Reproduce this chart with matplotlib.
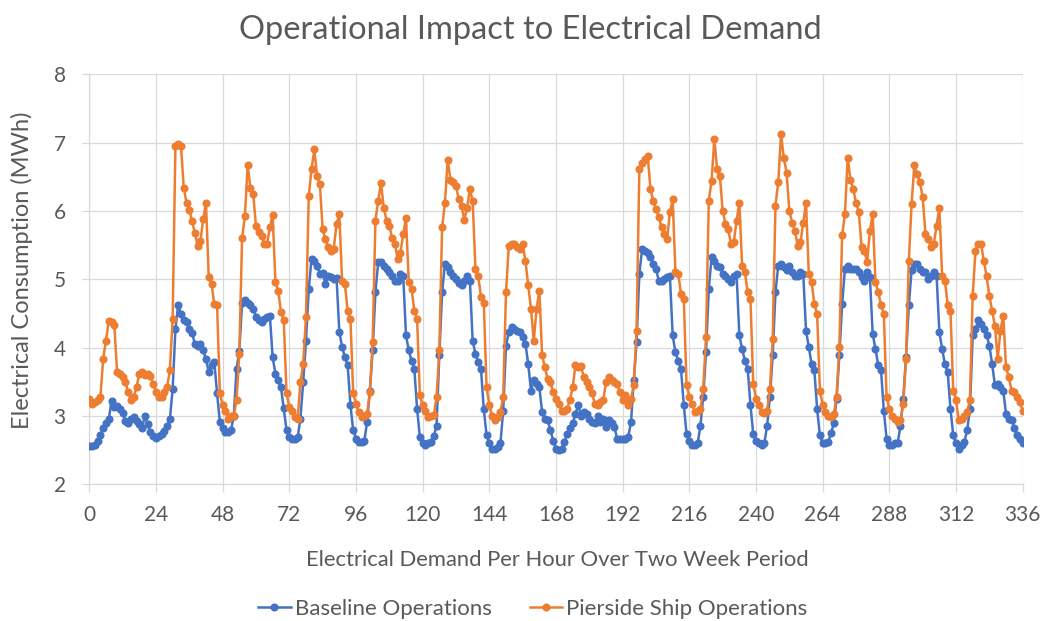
import matplotlib
matplotlib.use("Agg")
import matplotlib.pyplot as plt


# Hourly electrical demand (MWh), one row per day
hours = list(range(0, 337))

baseline = [
    2.56, 2.56, 2.58, 2.63, 2.72, 2.82, 2.90, 2.95, 3.22, 3.13, 3.15, 3.10, 3.05, 2.92, 2.90, 2.95, 2.99, 2.93, 2.88, 2.83, 3.00, 2.88, 2.76, 2.70,
    2.68, 2.70, 2.73, 2.78, 2.85, 2.95, 3.39, 4.27, 4.63, 4.49, 4.40, 4.37, 4.27, 4.22, 4.05, 4.02, 4.05, 3.96, 3.83, 3.64, 3.74, 3.79, 3.33, 2.91,
    2.82, 2.77, 2.77, 2.79, 3.00, 3.69, 3.95, 4.66, 4.69, 4.66, 4.62, 4.57, 4.45, 4.40, 4.37, 4.42, 4.45, 4.47, 3.86, 3.62, 3.52, 3.42, 3.11, 2.79,
    2.69, 2.67, 2.66, 2.69, 2.96, 3.50, 4.10, 4.86, 5.30, 5.27, 5.20, 5.08, 5.09, 4.93, 5.05, 5.03, 5.00, 5.02, 4.23, 4.01, 3.86, 3.74, 3.16, 2.79,
    2.67, 2.62, 2.62, 2.64, 2.91, 3.37, 3.96, 4.81, 5.25, 5.25, 5.20, 5.15, 5.10, 5.05, 4.98, 4.98, 5.08, 5.05, 4.18, 3.96, 3.81, 3.69, 3.10, 2.69,
    2.60, 2.57, 2.60, 2.62, 2.70, 2.86, 3.89, 4.81, 5.22, 5.18, 5.10, 5.05, 5.00, 4.95, 4.91, 4.98, 5.05, 4.98, 4.10, 3.91, 3.79, 3.69, 3.10, 2.72,
    2.60, 2.52, 2.52, 2.55, 2.60, 3.08, 4.03, 4.23, 4.30, 4.27, 4.25, 4.23, 4.15, 4.06, 3.76, 3.37, 3.52, 3.47, 3.42, 3.06, 2.96, 2.94, 2.79, 2.64,
    2.52, 2.50, 2.52, 2.62, 2.74, 2.82, 2.89, 3.03, 3.16, 3.00, 3.06, 3.03, 2.96, 2.91, 2.89, 3.00, 2.91, 2.96, 2.84, 2.94, 2.90, 2.84, 2.67, 2.67,
    2.67, 2.67, 2.69, 2.91, 3.52, 4.08, 5.08, 5.44, 5.42, 5.39, 5.32, 5.22, 5.15, 4.98, 4.98, 5.00, 5.03, 5.05, 4.18, 3.93, 3.81, 3.69, 3.16, 2.74,
    2.64, 2.57, 2.58, 2.60, 2.86, 3.28, 3.93, 4.86, 5.32, 5.27, 5.20, 5.18, 5.08, 5.05, 5.00, 4.96, 5.05, 5.08, 4.18, 3.98, 3.81, 3.69, 3.16, 2.74,
    2.64, 2.60, 2.57, 2.60, 2.86, 3.28, 3.89, 4.81, 5.20, 5.22, 5.18, 5.13, 5.20, 5.10, 5.05, 5.05, 5.10, 5.08, 4.25, 4.01, 3.76, 3.67, 3.10, 2.72,
    2.60, 2.60, 2.62, 2.75, 2.89, 3.25, 3.89, 4.64, 5.15, 5.20, 5.15, 5.15, 5.15, 5.10, 5.03, 4.98, 5.10, 5.03, 4.20, 3.98, 3.74, 3.67, 3.08, 2.67,
    2.57, 2.57, 2.60, 2.60, 2.86, 3.25, 3.86, 4.62, 5.13, 5.22, 5.22, 5.15, 5.10, 5.10, 5.00, 5.05, 5.10, 5.05, 4.23, 3.98, 3.76, 3.64, 3.10, 2.72,
    2.60, 2.52, 2.57, 2.62, 2.79, 3.10, 4.18, 4.27, 4.40, 4.35, 4.27, 4.18, 4.03, 3.76, 3.45, 3.47, 3.42, 3.37, 3.03, 2.96, 2.94, 2.82, 2.72, 2.66,
    2.60,
]

pierside = [
    3.25, 3.18, 3.20, 3.24, 3.28, 3.84, 4.10, 4.39, 4.37, 4.33, 3.64, 3.62, 3.57, 3.49, 3.35, 3.23, 3.28, 3.42, 3.62, 3.64, 3.60, 3.62, 3.59, 3.47,
    3.35, 3.28, 3.28, 3.35, 3.42, 3.67, 4.42, 6.95, 6.98, 6.95, 6.34, 6.12, 6.02, 5.85, 5.68, 5.49, 5.56, 5.88, 6.12, 5.03, 4.93, 4.64, 4.62, 3.33,
    3.16, 3.08, 2.96, 3.00, 3.00, 3.23, 3.91, 5.61, 5.92, 6.67, 6.34, 6.25, 5.78, 5.69, 5.64, 5.52, 5.52, 5.76, 5.94, 4.96, 4.83, 4.52, 4.40, 3.33,
    3.13, 3.08, 2.99, 2.96, 3.50, 3.76, 4.45, 6.22, 6.61, 6.90, 6.51, 6.39, 5.73, 5.59, 5.47, 5.42, 5.45, 5.81, 5.95, 4.98, 4.93, 4.54, 4.42, 3.33,
    3.18, 3.06, 2.99, 3.00, 3.03, 3.35, 4.08, 5.86, 6.15, 6.41, 6.05, 5.86, 5.78, 5.61, 5.52, 5.30, 5.39, 5.66, 5.89, 4.96, 4.86, 4.54, 4.42, 3.30,
    3.16, 3.08, 2.99, 3.00, 3.01, 3.28, 3.96, 5.76, 6.11, 6.75, 6.46, 6.42, 6.37, 6.17, 6.07, 5.87, 6.05, 6.32, 6.15, 5.15, 5.05, 4.74, 4.66, 3.42,
    3.16, 3.00, 2.94, 2.99, 3.06, 3.28, 4.81, 5.49, 5.52, 5.52, 5.47, 5.44, 5.52, 5.27, 4.91, 4.57, 4.10, 4.57, 4.83, 3.89, 3.71, 3.54, 3.49, 3.35,
    3.25, 3.18, 3.08, 3.08, 3.10, 3.23, 3.42, 3.74, 3.72, 3.73, 3.57, 3.49, 3.42, 3.33, 3.18, 3.16, 3.20, 3.23, 3.49, 3.57, 3.52, 3.50, 3.47, 3.35,
    3.23, 3.30, 3.16, 3.25, 3.45, 4.25, 6.61, 6.70, 6.76, 6.81, 6.32, 6.15, 6.03, 5.91, 5.76, 5.66, 5.59, 5.98, 6.17, 5.10, 5.08, 4.79, 4.71, 3.45,
    3.28, 3.18, 3.06, 3.08, 3.10, 3.40, 4.15, 6.15, 6.44, 7.05, 6.61, 6.51, 6.00, 5.81, 5.73, 5.52, 5.54, 5.86, 6.12, 5.20, 5.10, 4.81, 4.71, 3.47,
    3.25, 3.16, 3.06, 3.05, 3.08, 3.40, 4.13, 6.08, 6.42, 7.12, 6.78, 6.56, 6.00, 5.83, 5.71, 5.49, 5.54, 5.83, 6.12, 5.08, 4.96, 4.64, 4.49, 3.37,
    3.16, 3.06, 3.00, 2.99, 3.03, 3.28, 4.01, 5.65, 5.95, 6.78, 6.46, 6.32, 6.12, 5.98, 5.47, 5.42, 5.25, 5.71, 5.95, 4.96, 4.81, 4.62, 4.49, 3.28,
    3.10, 3.00, 2.96, 2.91, 2.94, 3.18, 3.84, 5.27, 6.10, 6.68, 6.54, 6.42, 6.20, 5.66, 5.59, 5.47, 5.52, 5.78, 6.05, 5.05, 4.98, 4.62, 4.54, 3.37,
    3.23, 2.94, 2.96, 3.00, 3.06, 3.23, 4.76, 5.42, 5.52, 5.52, 5.27, 5.05, 4.76, 4.54, 4.32, 3.84, 4.25, 4.47, 3.71, 3.57, 3.37, 3.35, 3.28, 3.20,
    3.08,
]

x_ticks = list(range(0, 337, 24))
y_ticks = [2, 3, 4, 5, 6, 7, 8]
series_names = ["Baseline Operations", "Pierside Ship Operations"]

plt.rcParams['font.family'] = ['Lato', 'DejaVu Sans']
text_gray = '#595959'
grid_gray = '#D9D9D9'

W, H = 1043, 621
fig = plt.figure(figsize=(W / 100, H / 100), dpi=100)
ax = fig.add_axes([89.3 / W, 1 - 484.3 / H, 933.4 / W, 410.0 / H])

ax.plot(hours, baseline, color='#4472C4', lw=1.8, marker='o', ms=4.8, label=series_names[0], zorder=3)
ax.plot(hours, pierside, color='#ED7D31', lw=1.8, marker='o', ms=4.8, label=series_names[1], zorder=4)

ax.set_xlim(0, 336)
ax.set_ylim(2, 8)
ax.set_xticks(x_ticks)
ax.set_yticks(y_ticks)
ax.grid(True, color=grid_gray, lw=0.9, zorder=0)
for s in ['top', 'right']:
    ax.spines[s].set_visible(False)
for s in ['left', 'bottom']:
    ax.spines[s].set_color(grid_gray)
    ax.spines[s].set_linewidth(0.9)
ax.tick_params(axis='x', direction='out', length=6, width=0.9, color=grid_gray,
               labelsize=15, labelcolor=text_gray, pad=9)
ax.tick_params(axis='y', direction='out', length=5, width=0.9, color=grid_gray,
               labelsize=15, labelcolor=text_gray, pad=12)

fig.text(530 / W, 1 - 30 / H, "Operational Impact to Electrical Demand",
         ha='center', va='center', fontsize=23.5, color=text_gray)
fig.text(557 / W, 1 - 560 / H, "Electrical Demand Per Hour Over Two Week Period",
         ha='center', va='center', fontsize=15.8, color=text_gray)
fig.text(22 / W, 1 - 270 / H, "Electrical Consumption (MWh)", rotation=90,
         ha='center', va='center', fontsize=17, color=text_gray)

fig.legend(loc='center', bbox_to_anchor=(533 / W, 1 - 609 / H), ncol=2, frameon=False,
           fontsize=16, labelcolor=text_gray, handlelength=1.45, handletextpad=0.2,
           columnspacing=1.7, borderaxespad=0)

fig.savefig('out.png', dpi=100)
